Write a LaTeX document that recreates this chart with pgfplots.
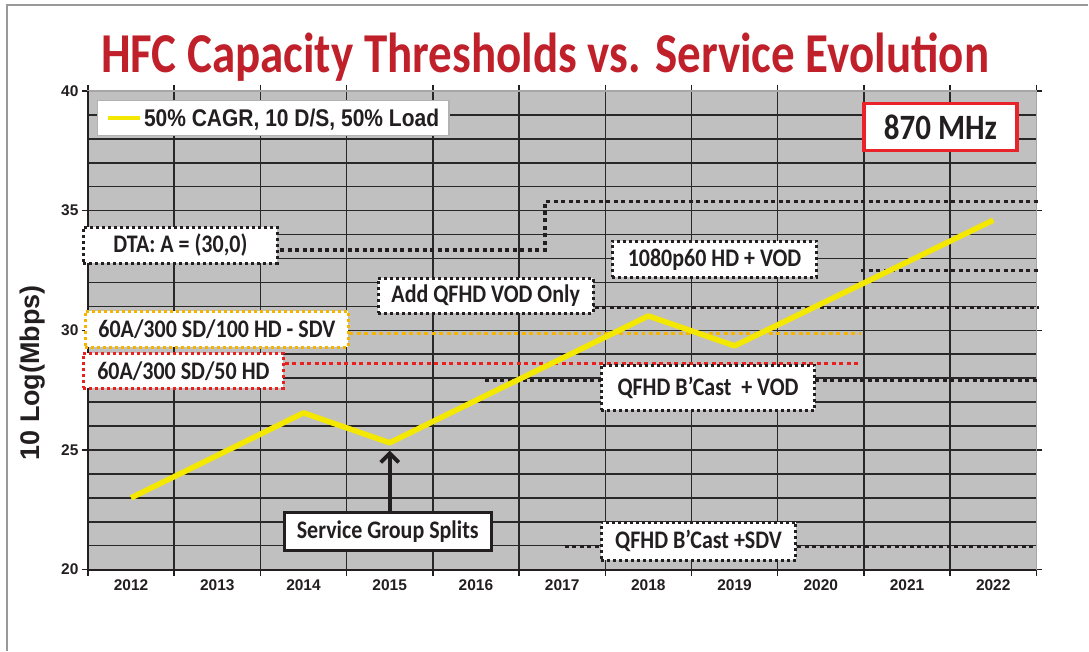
\documentclass[border=0pt]{standalone}
\usepackage{fontspec}
\setmainfont{Liberation Sans}
\newfontfamily\calib{Carlito}
\usepackage{graphicx}
\usepackage{pgfplots}
\pgfplotsset{compat=1.18}
\usetikzlibrary{arrows.meta}

\definecolor{bggray}{RGB}{192,192,192}
\definecolor{gridc}{RGB}{40,40,40}
\definecolor{titlered}{RGB}{192,32,42}
\definecolor{lineyellow}{RGB}{245,232,0}
\definecolor{dotorange}{RGB}{245,180,0}
\definecolor{dotred}{RGB}{232,32,32}
\definecolor{boxred}{RGB}{232,36,42}
\definecolor{txt}{RGB}{35,31,32}

\newcommand\vs[1]{\scalebox{1}[1.15]{#1}}

\begin{document}
\begin{tikzpicture}[
  thr/.style={line width=3.6pt, dash pattern=on 4pt off 3.5pt},
  bx/.style={draw=txt, fill=white, line width=3pt, dash pattern=on 3pt off 3pt,
    inner sep=0pt, font=\calib\bfseries\fontsize{22}{24}\selectfont, text=txt, anchor=center},
]
\path (0pt,0pt) rectangle (1089pt,-651pt);
\draw[gray!80, line width=1.4pt] (7pt,-651pt) -- (7pt,-5pt) -- (1089pt,-5pt);
\begin{axis}[
  at={(88pt,-570pt)}, anchor=south west,
  scale only axis, width=949pt, height=479pt,
  xmin=-0.5, xmax=10.5, ymin=20, ymax=40,
  clip=false,
  axis background/.style={fill=bggray},
  xtick={-0.5,0.5,1.5,2.5,3.5,4.5,5.5,6.5,7.5,8.5,9.5,10.5},
  xticklabels={},
  extra x ticks={0,1,2,3,4,5,6,7,8,9,10},
  extra x tick labels={2012,2013,2014,2015,2016,2017,2018,2019,2020,2021,2022},
  extra x tick style={major tick length=0pt, grid=none},
  xmajorgrids,
  ytick={20,25,30,35,40},
  minor ytick={21,22,23,24,26,27,28,29,31,32,33,34,36,37,38,39},
  ymajorgrids, yminorgrids,
  major grid style={draw=gridc, line width=1.5pt},
  minor grid style={draw=gridc, line width=1.5pt},
  tick align=outside,
  major tick length=6pt,
  minor tick length=0pt,
  tick style={draw=txt, line width=1.5pt},
  tick label style={font=\bfseries\fontsize{15.5}{16}\selectfont, text=txt},
  x tick label style={yshift=-7pt},
  /pgf/number format/assume math mode=true,
  axis line style={draw=gray!70, line width=1.2pt},
  legend style={at={(0.0095,0.981)}, anchor=north west, draw=gray!60, line width=1.2pt,
    fill=white, font=\bfseries\fontsize{21}{23}\selectfont, text=txt,
    inner xsep=8pt, inner ysep=6pt},
  legend cell align=left,
  legend image code/.code={\draw[#1, line width=4.5pt] (0pt,0pt) -- (32pt,0pt);},
]
% threshold lines
\addplot[thr, txt, forget plot] coordinates {(1.73,33.35) (4.80,33.35) (4.80,35.38) (10.53,35.38)};
\addplot[thr, txt, forget plot] coordinates {(8.47,32.5) (10.53,32.5)};
\addplot[thr, txt, forget plot] coordinates {(5.38,30.95) (10.53,30.95)};
\addplot[thr, dotorange, forget plot] coordinates {(2.53,29.87) (8.47,29.87)};
\addplot[thr, dotred, forget plot] coordinates {(1.78,28.62) (8.47,28.62)};
\addplot[thr, txt, forget plot] coordinates {(4.11,27.9) (10.53,27.9)};
\addplot[thr, txt, forget plot] coordinates {(5.03,20.97) (10.5,20.97)};
% growth line
\addplot[lineyellow, line width=5.5pt, line join=round] coordinates {
  (0,23.0) (1,24.77) (2,26.55) (3,25.3) (4,27.07) (5,28.83) (6,30.6)
  (7,29.35) (8,31.1) (9,32.85) (10,34.6)};
\addlegendentry{\vs{50\% CAGR, 10 D/S, 50\% Load}}
\draw[txt, line width=2pt] (rel axis cs:0,0) -- (rel axis cs:1,0);
\draw[txt, line width=1.5pt] (rel axis cs:0,0) -- (rel axis cs:0,1);
\end{axis}
% title
\node[anchor=base, text=titlered, font=\calib\bfseries\fontsize{47}{50}\selectfont] at (545.5pt,-72.7pt) {\scalebox{1}[1.2]{HFC Capacity Thresholds vs. Service Evolution}};
% y label
\node[rotate=90, text=txt, font=\bfseries\fontsize{27}{30}\selectfont] at (33pt,-373pt) {10 Log(Mbps)};
% annotation boxes
\node[bx, minimum width=194pt, minimum height=36pt] at (180.5pt,-245.5pt) {\vs{DTA: A = (30,0)}};
\node[bx, minimum width=205pt, minimum height=36pt] at (715pt,-259.5pt) {\vs{1080p60 HD + VOD}};
\node[bx, minimum width=215pt, minimum height=35pt] at (486pt,-296pt) {\vs{Add QFHD VOD Only}};
\node[bx, draw=dotorange, minimum width=263pt, minimum height=36pt] at (217pt,-329.5pt) {\vs{60A/300 SD/100 HD - SDV}};
\node[bx, draw=dotred, minimum width=200pt, minimum height=35pt] at (183.5pt,-371pt) {\vs{60A/300 SD/50 HD}};
\node[bx, minimum width=214pt, minimum height=45pt] at (708.5pt,-388pt) {\vs{QFHD B’Cast\ \ + VOD}};
\node[bx, minimum width=195pt, minimum height=38pt] at (699pt,-541.5pt) {\vs{QFHD B’Cast +SDV}};
\node[bx, solid, line width=3pt, minimum width=207pt, minimum height=38pt] at (388pt,-531.5pt) {\vs{Service Group Splits}};
\draw[txt, line width=3.8pt, -{Straight Barb[length=9pt, width=18pt, line width=3.8pt]}] (390pt,-511pt) -- (390pt,-451pt);
\node[draw=boxred, line width=3.5pt, fill=white, minimum width=153pt, minimum height=47pt, inner sep=0pt,
  text=txt, font=\calib\bfseries\fontsize{31}{34}\selectfont] at (941pt,-127pt) {\vs{870 MHz}};
\end{tikzpicture}
\end{document}
